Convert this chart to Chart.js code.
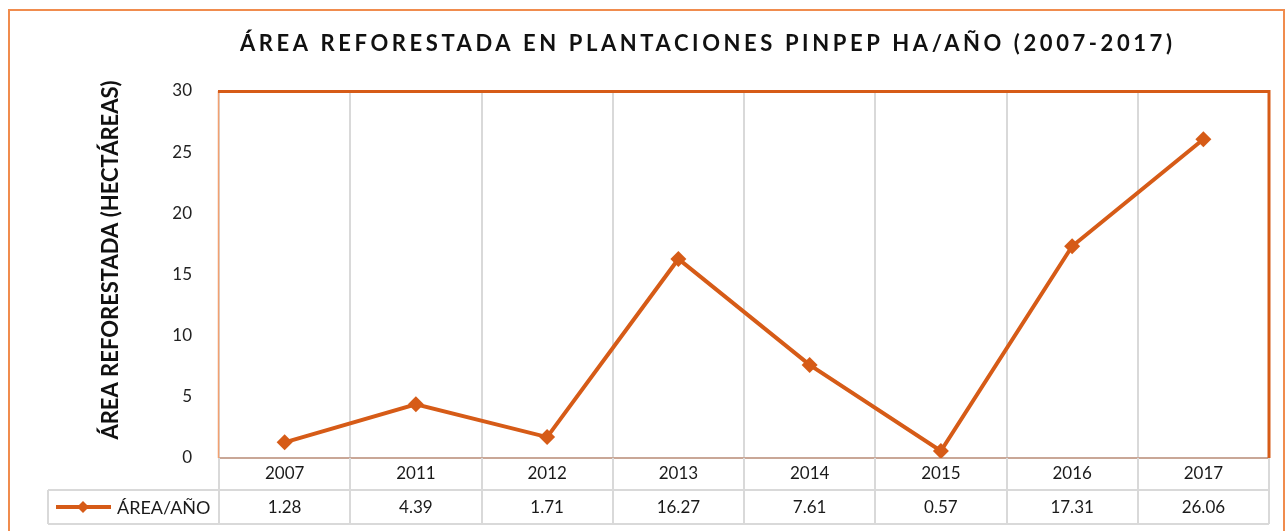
<!DOCTYPE html>
<html>
<head>
<meta charset="utf-8">
<script src="https://cdn.jsdelivr.net/npm/chart.js@4.4.0/dist/chart.umd.min.js"></script>
<style>
  html, body { margin: 0; padding: 0; background: #fff; }
  #wrap { position: relative; width: 1286px; height: 531px; }
</style>
</head>
<body>
<div id="wrap"><canvas id="c" width="1286" height="531"></canvas></div>
<script>
// data
const years = ['2007', '2011', '2012', '2013', '2014', '2015', '2016', '2017'];
const area = [1.28, 4.39, 1.71, 16.27, 7.61, 0.57, 17.31, 26.06];
const areaLabels = ['1.28', '4.39', '1.71', '16.27', '7.61', '0.57', '17.31', '26.06'];
const yTicks = [0, 5, 10, 15, 20, 25, 30];
const chartTitle = 'ÁREA REFORESTADA EN PLANTACIONES PINPEP HA/AÑO (2007-2017)';
const yTitle = 'ÁREA REFORESTADA (HECTÁREAS)';
const seriesName = 'ÁREA/AÑO';

const ORANGE = '#D65B17';
const FRAME = '#F08C4E';
const GRID = '#D9D9D9';
const FONT = 'Lato, "Open Sans", sans-serif';

// frame, title, axis title, plot borders and the data table under the axis
const extras = {
  id: 'extras',
  beforeDraw(chart) {
    const ctx = chart.ctx;
    ctx.save();
    ctx.fillStyle = '#fff';
    ctx.fillRect(0, 0, chart.width, chart.height);
    ctx.strokeStyle = FRAME;
    ctx.lineWidth = 2;
    ctx.strokeRect(9, 10, 1275, 560);
    ctx.restore();
  },
  beforeDatasetsDraw(chart) {
    const ctx = chart.ctx, a = chart.chartArea;
    ctx.save();
    // left edge (thin, lighter)
    ctx.strokeStyle = '#F2A171';
    ctx.lineWidth = 1.5;
    ctx.beginPath(); ctx.moveTo(a.left - 0.5, a.top); ctx.lineTo(a.left - 0.5, a.bottom); ctx.stroke();
    // top + right edges
    ctx.strokeStyle = ORANGE;
    ctx.lineWidth = 3;
    ctx.beginPath();
    ctx.moveTo(a.left - 1, a.top + 0.5);
    ctx.lineTo(a.right, a.top + 0.5);
    ctx.lineTo(a.right, a.bottom);
    ctx.stroke();
    ctx.restore();
  },
  afterDraw(chart) {
    const ctx = chart.ctx, a = chart.chartArea, x = chart.scales.x;
    ctx.save();

    // chart title, letter spaced
    ctx.fillStyle = '#111';
    ctx.font = 'bold 22px ' + FONT;
    ctx.textBaseline = 'alphabetic';
    ctx.textAlign = 'left';
    const wanted = 932;
    ctx.letterSpacing = '0px';
    const raw = ctx.measureText(chartTitle).width;
    const sp = (wanted - raw) / (chartTitle.length - 1);
    ctx.letterSpacing = sp + 'px';
    ctx.fillText(chartTitle, 706 - wanted / 2, 51);
    ctx.letterSpacing = '0px';

    // y axis title
    ctx.save();
    ctx.translate(118, 260);
    ctx.rotate(-Math.PI / 2);
    ctx.font = 'bold 22px ' + FONT;
    ctx.textAlign = 'center';
    ctx.textBaseline = 'alphabetic';
    ctx.fillStyle = '#111';
    ctx.fillText(yTitle, 0, 0);
    ctx.restore();

    // data table
    const w = x.getPixelForValue(1) - x.getPixelForValue(0);
    const row1 = a.bottom, row2 = a.bottom + 32, row3 = a.bottom + 66;
    const tableLeft = 48;
    ctx.strokeStyle = GRID;
    ctx.lineWidth = 2;
    ctx.beginPath();
    for (let i = 0; i <= years.length; i++) {
      const bx = Math.round(x.getPixelForValue(0) - w / 2 + i * w);
      ctx.moveTo(bx, row1); ctx.lineTo(bx, row3);
    }
    ctx.moveTo(tableLeft, row2); ctx.lineTo(a.right, row2);
    ctx.moveTo(tableLeft, row3); ctx.lineTo(a.right, row3);
    ctx.moveTo(tableLeft, row2); ctx.lineTo(tableLeft, row3);
    ctx.stroke();

    ctx.fillStyle = '#1a1a1a';
    ctx.font = '17px ' + FONT;
    ctx.textAlign = 'center';
    ctx.textBaseline = 'middle';
    areaLabels.forEach((t, i) => ctx.fillText(t, x.getPixelForValue(i), (row2 + row3) / 2 + 1));

    // legend key inside the table
    const ly = (row2 + row3) / 2;
    ctx.strokeStyle = ORANGE;
    ctx.lineWidth = 4;
    ctx.beginPath(); ctx.moveTo(56, ly); ctx.lineTo(111, ly); ctx.stroke();
    ctx.fillStyle = ORANGE;
    ctx.beginPath();
    ctx.moveTo(83, ly - 6); ctx.lineTo(89, ly); ctx.lineTo(83, ly + 6); ctx.lineTo(77, ly);
    ctx.closePath(); ctx.fill();
    ctx.fillStyle = '#1a1a1a';
    ctx.font = '18px ' + FONT;
    ctx.textAlign = 'left';
    ctx.fillText(seriesName, 117, ly + 1);

    ctx.restore();
  }
};

new Chart(document.getElementById('c'), {
  type: 'line',
  data: {
    labels: years,
    datasets: [{
      label: seriesName,
      data: area,
      borderColor: ORANGE,
      backgroundColor: ORANGE,
      borderWidth: 4,
      pointStyle: 'rectRot',
      pointRadius: 8,
      pointBorderWidth: 0,
      pointBackgroundColor: ORANGE,
      tension: 0
    }]
  },
  options: {
    responsive: false,
    animation: false,
    devicePixelRatio: 1,
    layout: { padding: { top: 91, right: 17, bottom: 0, left: 0 } },
    plugins: { legend: { display: false }, title: { display: false }, tooltip: { enabled: false } },
    scales: {
      x: {
        offset: true,
        grid: { offset: true, color: GRID, lineWidth: 2, drawTicks: false },
        border: { display: true, color: '#C9A797', width: 2 },
        ticks: { color: '#1a1a1a', font: { family: FONT, size: 17 }, padding: 5, autoSkip: false, maxRotation: 0 },
        afterFit(s) { s.height = 73; }
      },
      y: {
        min: 0,
        max: 30,
        afterBuildTicks(s) { s.ticks = yTicks.map(v => ({ value: v })); },
        grid: { display: false },
        border: { display: false },
        ticks: { color: '#222', font: { family: FONT, size: 17 }, padding: 19 },
        afterFit(s) { s.width = 219; }
      }
    }
  },
  plugins: [extras]
});
</script>
</body>
</html>
